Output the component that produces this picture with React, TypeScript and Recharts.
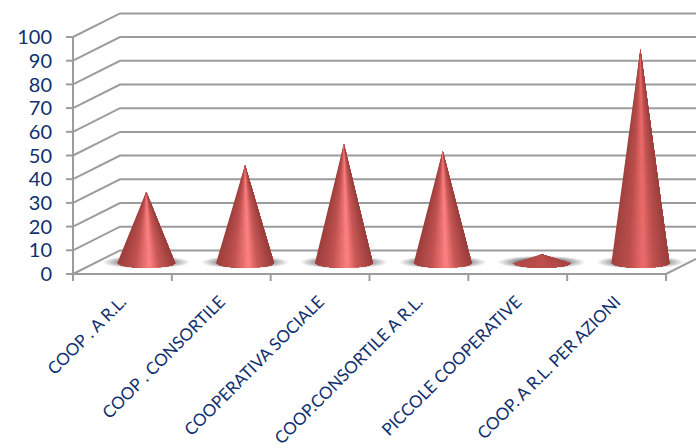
import React from "react";
import { ComposedChart, Bar, XAxis, YAxis, CartesianGrid } from "recharts";

const categories = ["COOP . A R.L.", "COOP . CONSORTILE", "COOPERATIVA SOCIALE", "COOP.CONSORTILE A R.L.", "PICCOLE COOPERATIVE", "COOP. A R.L. PER AZIONI"];
const values = [29.7, 41, 50, 47, 3.4, 90];
const yTicks = [0, 10, 20, 30, 40, 50, 60, 70, 80, 90, 100];
const rows = categories.map((name, i) => ({ name, value: values[i] }));

const W = 696, H = 448, LEFT = 73, RIGHT = 30, TOP = 37, XH = 174;
const DX = 47, DY = 23.6;
const BAND = (W - LEFT - RIGHT) / categories.length;
const GRAY = "#9c9c9c";
const TEXT = "#10306f";
const FONT = "Lato, sans-serif";

const bright: number[][] = [[0, 156, 62, 60], [0.3, 192, 82, 80], [0.5, 240, 118, 118], [0.56, 255, 130, 130], [0.72, 200, 88, 86], [1, 150, 60, 58]];
const soft: number[][] = [[0, 160, 66, 64], [0.3, 186, 78, 76], [0.5, 226, 102, 101], [0.56, 234, 108, 107], [0.72, 192, 82, 80], [1, 152, 62, 60]];
const flat: number[][] = [[0, 176, 74, 72], [0.55, 192, 79, 77], [1, 168, 70, 68]];

const shade = (stops: number[][], t: number) => {
  for (let i = 1; i < stops.length; i++) {
    if (t <= stops[i][0]) {
      const a = stops[i - 1], b = stops[i];
      const k = (t - a[0]) / (b[0] - a[0]);
      return `rgb(${[1, 2, 3].map((c) => Math.round(a[c] + (b[c] - a[c]) * k)).join(",")})`;
    }
  }
  return "#a00";
};

const gridLine = (p: any) => {
  const y = p.y1;
  const floor = Math.abs(y - (H - XH)) < 1;
  return (
    <g key={p.key ?? y}>
      <polyline points={`${LEFT},${y} ${LEFT + DX},${y - DY} ${W},${y - DY}`} fill="none" stroke={GRAY} strokeWidth={2} />
      {floor && <line x1={W - RIGHT} y1={y} x2={W} y2={y - (RIGHT * DY) / DX} stroke={GRAY} strokeWidth={2} />}
    </g>
  );
};

const SLICES = 30;
const Cone = (p: any) => {
  const cx = p.x + p.width / 2 + DX / 2 + 0.2;
  const tip = p.y - DY / 2;
  const base = p.y + p.height - DY / 2 + 1;
  const r = 29;
  const stops = p.index === 5 ? soft : p.index === 4 ? flat : bright;
  const pt = (t: number) => {
    const u = 2 * t - 1;
    return `${cx + r * u},${base + 4.5 * Math.sqrt(Math.max(0, 1 - u * u))}`;
  };
  const wedges = [];
  for (let i = 0; i < SLICES; i++) {
    const pts = [];
    for (let j = i; j <= SLICES; j++) pts.push(pt(j / SLICES));
    wedges.push(<path key={i} d={`M${cx},${tip} L${pts.join(" L")} Z`} fill={shade(stops, (i + 0.5) / SLICES)} />);
  }
  return (
    <g>
      <ellipse cx={cx} cy={base - 1} rx={44} ry={6.5} fill="url(#shadow)" />
      {wedges}
    </g>
  );
};

const XTick = (p: any) => {
  const { x, index, payload } = p;
  const lx = x + 5, ly = H - XH + 29;
  return (
    <g>
      <line x1={x - BAND / 2} y1={H - XH} x2={x - BAND / 2} y2={H - XH + 7} stroke={GRAY} strokeWidth={2} />
      {index === categories.length - 1 && <line x1={x + BAND / 2} y1={H - XH} x2={x + BAND / 2} y2={H - XH + 7} stroke={GRAY} strokeWidth={2} />}
      <text x={lx} y={ly} textAnchor="end" fontSize={17} fontFamily={FONT} fill={TEXT} transform={`rotate(-45 ${lx} ${ly})`}>
        {payload.value}
      </text>
    </g>
  );
};

export default function App() {
  return (
    <div style={{ position: "absolute", left: 0, top: 0, width: W, height: H, background: "#fff" }}>
      <ComposedChart width={W} height={H} data={rows} margin={{ top: TOP, right: RIGHT, bottom: 0, left: 0 }} barCategoryGap="0%">
        <defs>
          <radialGradient id="shadow">
            <stop offset="0.5" stopColor="#7a7a7a" />
            <stop offset="1" stopColor="#7a7a7a" stopOpacity={0} />
          </radialGradient>
        </defs>
        <CartesianGrid vertical={false} horizontal={gridLine} />
        <XAxis dataKey="name" height={XH} interval={0} axisLine={{ stroke: GRAY, strokeWidth: 2 }} tickLine={false} tick={<XTick />} />
        <YAxis
          width={LEFT}
          domain={[0, 100]}
          ticks={yTicks}
          interval={0}
          axisLine={{ stroke: GRAY, strokeWidth: 2 }}
          tickLine={{ stroke: GRAY, strokeWidth: 2 }}
          tickSize={7}
          tickMargin={14}
          tick={{ fill: TEXT, fontSize: 20, fontFamily: FONT }}
        />
        <Bar dataKey="value" isAnimationActive={false} shape={<Cone />} />
      </ComposedChart>
    </div>
  );
}
